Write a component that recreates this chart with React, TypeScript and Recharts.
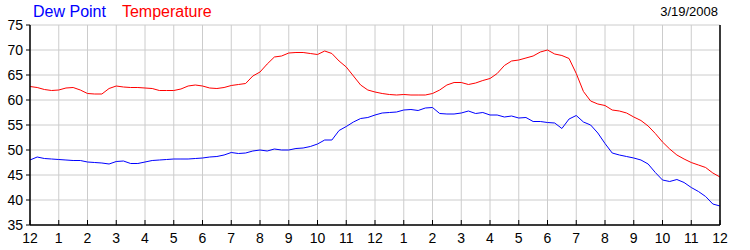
import React from "react";
import { LineChart, Line, XAxis, YAxis, CartesianGrid } from "recharts";

// Time of day in hours since midnight, sampled every 15 minutes (0 .. 24)
const HOURS: number[] = Array.from({ length: 97 }, (_, i) => i / 4);

const TEMPERATURE: number[] = [
  62.7, 62.5, 62.1, 61.9, 62.0, 62.4, 62.5, 62.0, 61.3, 61.2, 61.2, 62.3,
  62.8, 62.6, 62.5, 62.5, 62.4, 62.3, 61.9, 61.9, 61.9, 62.2, 62.8, 63.0,
  62.8, 62.4, 62.3, 62.5, 62.9, 63.1, 63.3, 64.8, 65.6, 67.2, 68.6, 68.8,
  69.4, 69.5, 69.5, 69.3, 69.1, 69.8, 69.3, 67.8, 66.6, 64.8, 63.0, 62.0,
  61.6, 61.3, 61.1, 61.0, 61.1, 61.0, 61.0, 61.0, 61.3, 62.0, 63.0, 63.5,
  63.5, 63.1, 63.4, 63.9, 64.3, 65.3, 66.9, 67.8, 68.0, 68.4, 68.8, 69.6,
  70.0, 69.2, 68.9, 68.3, 65.3, 61.7, 59.8, 59.2, 58.9, 58.0, 57.8, 57.4,
  56.6, 55.9, 54.8, 53.3, 51.6, 50.2, 49.0, 48.2, 47.5, 47.0, 46.5, 45.4,
  44.6,
];

const DEW_POINT: number[] = [
  48.0, 48.6, 48.3, 48.2, 48.1, 48.0, 47.9, 47.9, 47.6, 47.5, 47.4, 47.2,
  47.7, 47.8, 47.3, 47.3, 47.6, 47.9, 48.0, 48.1, 48.2, 48.2, 48.2, 48.3,
  48.4, 48.6, 48.7, 49.0, 49.5, 49.3, 49.4, 49.8, 50.0, 49.8, 50.2, 50.0,
  50.0, 50.3, 50.4, 50.7, 51.2, 52.0, 52.0, 53.9, 54.7, 55.6, 56.3, 56.5,
  57.0, 57.4, 57.5, 57.6, 58.0, 58.1, 57.9, 58.4, 58.5, 57.3, 57.2, 57.2,
  57.4, 57.8, 57.3, 57.5, 57.0, 57.0, 56.6, 56.8, 56.4, 56.5, 55.7, 55.7,
  55.5, 55.4, 54.3, 56.2, 56.9, 55.6, 55.0, 53.4, 51.3, 49.4, 49.0, 48.7,
  48.4, 48.0, 47.2, 45.5, 44.0, 43.7, 44.1, 43.5, 42.5, 41.7, 40.7, 39.2,
  38.8,
];

const X_TICKS: number[] = [
  0, 1, 2, 3, 4, 5, 6, 7, 8, 9, 10, 11, 12, 13, 14, 15, 16, 17, 18, 19, 20,
  21, 22, 23, 24,
];
const X_TICK_LABELS: string[] = [
  "12", "1", "2", "3", "4", "5", "6", "7", "8", "9", "10", "11", "12",
  "1", "2", "3", "4", "5", "6", "7", "8", "9", "10", "11", "12",
];
const Y_TICKS: number[] = [35, 40, 45, 50, 55, 60, 65, 70, 75];

const TITLE_DEW = "Dew Point";
const TITLE_TEMP = "Temperature";
const DATE_LABEL = "3/19/2008";

const data = HOURS.map((h, i) => ({
  h,
  temp: TEMPERATURE[i],
  dew: DEW_POINT[i],
}));

const FONT = "Arial, 'Liberation Sans', sans-serif";

const labelFor = (v: number) => {
  const idx = X_TICKS.indexOf(v);
  return idx >= 0 ? X_TICK_LABELS[idx] : String(v);
};

const BottomTick = (props: any) => {
  const { x, y, payload } = props;
  return (
    <g>
      <line x1={x} y1={y} x2={x} y2={y - 5} stroke="#000" strokeWidth={1} />
      <text
        x={x}
        y={y + 18}
        textAnchor="middle"
        fontSize={14}
        fontFamily={FONT}
        fill="#000"
      >
        {labelFor(payload.value)}
      </text>
    </g>
  );
};

const TopTick = (props: any) => {
  const { x, y } = props;
  return (
    <g>
      <line x1={x} y1={y} x2={x} y2={y + 5} stroke="#000" strokeWidth={1} />
    </g>
  );
};

export default function App() {
  return (
    <div
      style={{
        position: "absolute",
        left: 0,
        top: 0,
        width: 750,
        height: 250,
        background: "#fff",
        fontFamily: FONT,
      }}
    >
      <div
        style={{
          position: "absolute",
          left: 33,
          top: 2,
          fontSize: 16,
          lineHeight: "20px",
          whiteSpace: "nowrap",
        }}
      >
        <span style={{ color: "#0000ff" }}>{TITLE_DEW}</span>
        <span style={{ color: "#ff0000", marginLeft: 16 }}>{TITLE_TEMP}</span>
      </div>
      <div
        style={{
          position: "absolute",
          right: 32,
          top: 4,
          fontSize: 13,
          lineHeight: "16px",
          color: "#000",
          whiteSpace: "nowrap",
        }}
      >
        {DATE_LABEL}
      </div>
      <div style={{ position: "absolute", left: 0, top: 0 }}>
        <LineChart
          width={750}
          height={250}
          data={data}
          margin={{ top: 25, right: 0, bottom: 0, left: 0 }}
        >
          <CartesianGrid stroke="#cccccc" strokeWidth={1} />
          <XAxis
            dataKey="h"
            type="number"
            domain={[0, 24]}
            ticks={X_TICKS}
            interval={0}
            height={25}
            axisLine={{ stroke: "#000", strokeWidth: 1.5 }}
            tickLine={false}
            tickSize={0}
            tickMargin={0}
            tick={<BottomTick />}
          />
          <XAxis
            xAxisId="top"
            orientation="top"
            dataKey="h"
            type="number"
            domain={[0, 24]}
            ticks={X_TICKS}
            interval={0}
            height={0}
            axisLine={{ stroke: "#000", strokeWidth: 1.5 }}
            tickLine={false}
            tickSize={0}
            tickMargin={0}
            tick={<TopTick />}
          />
          <YAxis
            domain={[35, 75]}
            ticks={Y_TICKS}
            interval={0}
            width={30}
            axisLine={{ stroke: "#000", strokeWidth: 1.5 }}
            tickLine={{ stroke: "#000" }}
            tickSize={4}
            tickMargin={3}
            tick={{ fontSize: 14, fill: "#000", fontFamily: FONT }}
          />
          <YAxis
            yAxisId="right"
            orientation="right"
            domain={[35, 75]}
            ticks={Y_TICKS}
            interval={0}
            width={30}
            axisLine={{ stroke: "#000", strokeWidth: 1.5 }}
            tickLine={{ stroke: "#000" }}
            tickSize={4}
            tickMargin={3}
            tick={{ fontSize: 14, fill: "#000", fontFamily: FONT }}
          />
          <Line
            dataKey="temp"
            stroke="#ff0000"
            strokeWidth={1}
            dot={false}
            isAnimationActive={false}
            type="linear"
          />
          <Line
            dataKey="dew"
            stroke="#0000ff"
            strokeWidth={1}
            dot={false}
            isAnimationActive={false}
            type="linear"
          />
        </LineChart>
      </div>
    </div>
  );
}
